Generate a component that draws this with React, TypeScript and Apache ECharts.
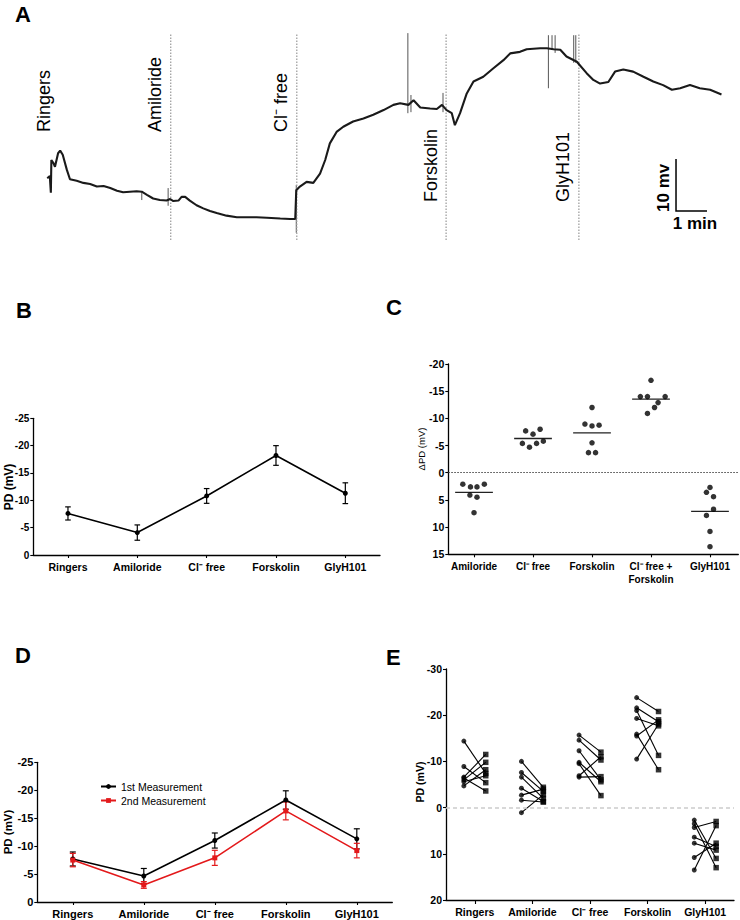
import React, { useEffect, useRef } from "react";
import * as echarts from "echarts";

const FONT = '"Liberation Sans", Arial, Helvetica, sans-serif';
const RED = "#e3191b";

// ---------- Panel A : PD trace (time in s, deflection in mV, upward = more negative PD)
const traceTime = [14, 19, 21, 22, 26, 29, 35, 39, 44, 52, 58, 71, 84, 97, 110, 123, 136, 149, 161, 174, 187, 197, 207, 219, 232, 245, 252, 258, 268, 274, 281, 290, 303, 316, 329, 342, 361, 381, 400, 419, 439, 465, 484, 494, 496, 503, 516, 529, 542, 552, 561, 574, 587, 606, 626, 645, 665, 684, 697, 713, 723, 736, 755, 768, 778, 787, 797, 803, 813, 826, 839, 858, 877, 897, 910, 929, 942, 968, 981, 994, 1007, 1019, 1039, 1058, 1071, 1084, 1100, 1113, 1129, 1148, 1168, 1187, 1206, 1223, 1239, 1258, 1277, 1297, 1319];
const traceMv = [11.5, 11.9, 8.7, 15.0, 14.4, 13.7, 16.3, 16.8, 16.0, 13.1, 11.3, 11.0, 10.6, 10.4, 9.9, 10.0, 9.6, 9.1, 8.8, 8.9, 9.0, 8.9, 8.3, 7.6, 7.3, 7.2, 7.5, 7.1, 7.2, 7.9, 7.9, 7.2, 6.3, 5.7, 5.2, 4.8, 4.3, 4.0, 4.0, 4.0, 3.9, 3.75, 3.65, 3.65, 9.2, 9.9, 10.8, 10.6, 12.4, 15.0, 18.2, 20.4, 21.4, 22.4, 23.0, 23.7, 24.6, 25.6, 25.9, 25.6, 26.5, 25.1, 24.9, 24.8, 25.6, 24.6, 24.0, 21.7, 24.0, 27.8, 30.1, 31.0, 32.6, 34.2, 35.5, 35.8, 36.3, 36.5, 36.5, 36.3, 36.2, 34.9, 33.9, 31.7, 30.4, 29.7, 30.0, 32.0, 32.4, 32.0, 31.0, 30.1, 29.4, 28.5, 28.8, 29.4, 28.8, 28.5, 27.6];
const spikeTime = [197, 248, 496, 712, 718, 780, 984, 991, 997, 1033, 1037];
const spikeLowMv = [7.3, 6.2, 1.0, 24.0, 24.2, 24.2, 28.8, 36.2, 35.6, 33.7, 33.7];
const spikeHighMv = [9.0, 9.6, 10.2, 39.4, 27.5, 27.9, 39.0, 39.0, 39.0, 39.0, 39.0];
const eventNames = ["Ringers", "Amiloride", "Cl⁻ free", "Forskolin", "GlyH101"];
const eventTime = [38, 253, 497, 786, 1043];
const eventLabelMv = [20.4, 20.4, 20.4, 6.9, 6.9];
const eventHasLine = [0, 1, 1, 1, 1];
const scaleBarMv = 10;
const scaleBarSec = 60;
const scaleBarAt = [1231, 5.2];

// ---------- Panel B
const bCats = ["Ringers", "Amiloride", "Cl⁻ free", "Forskolin", "GlyH101"];
const bMean = [-7.6, -4.1, -10.8, -18.2, -11.3];
const bSem = [1.2, 1.4, 1.35, 1.8, 1.9];

// ---------- Panel C
const cCats = ["Amiloride", "Cl⁻ free", "Forskolin", "Cl⁻ free +\nForskolin", "GlyH101"];
const cAmiloride = [2.1, 2.6, 2.6, 2.1, 4.1, 4.5, 7.35];
const cClFree = [-7.7, -7.1, -8.0, -5.4, -4.7, -5.4, -5.8];
const cForskolin = [-12.0, -8.95, -8.6, -8.75, -5.5, -3.7, -3.7];
const cClFreeForskolin = [-17.0, -14.0, -14.0, -14.0, -12.9, -12.0, -10.9];
const cGlyH101 = [2.7, 3.6, 4.4, 6.7, 7.85, 10.8, 13.6];
const cJitter = [
  [-0.19, -0.06, 0.05, 0.175, -0.07, 0.05, 0],
  [-0.125, 0, 0.12, -0.18, -0.06, 0.06, 0.175],
  [0, -0.12, 0, 0.12, 0, -0.06, 0.06],
  [0, -0.18, -0.06, 0.24, 0.12, 0.06, -0.06],
  [0, -0.06, 0.06, 0.06, -0.06, 0, 0],
];

// ---------- Panel D
const dCats = ["Ringers", "Amiloride", "Cl⁻ free", "Forskolin", "GlyH101"];
const dMean1 = [-7.7, -4.65, -11.0, -18.25, -11.3];
const dSem1 = [1.25, 1.35, 1.35, 1.65, 1.8];
const dMean2 = [-7.5, -3.05, -7.9, -16.3, -9.2];
const dSem2 = [1.2, 0.6, 1.35, 1.6, 1.3];

// ---------- Panel E (paired 1st / 2nd measurement)
const eCats = ["Ringers", "Amiloride", "Cl⁻ free", "Forskolin", "GlyH101"];
const eRingers1 = [-14.4, -8.9, -6.6, -6.4, -6.0, -5.6, -4.7];
const eRingers2 = [-7.4, -5.4, -11.5, -3.6, -9.8, -6.9, -8.2];
const eAmiloride1 = [-10.0, -7.6, -6.6, -4.2, -2.7, -1.6, 1.1];
const eAmiloride2 = [-4.4, -3.5, -2.0, -1.3, -4.0, -1.2, -2.8];
const eClFree1 = [-15.7, -14.6, -12.3, -9.8, -9.5, -6.9, -6.6];
const eClFree2 = [-12.0, -10.3, -6.0, -5.6, -2.6, -11.0, -6.7];
const eForskolin1 = [-23.8, -21.6, -21.0, -19.3, -15.9, -15.5, -10.5];
const eForskolin2 = [-20.8, -18.6, -11.3, -17.7, -8.2, -19.0, -18.1];
const eGlyH1011 = [2.7, 3.5, 4.3, 6.4, 7.7, 10.8, 13.5];
const eGlyH1012 = [11.0, 13.0, 3.0, 8.4, 9.2, 7.7, 3.9];

const PAIR_OFF = 0.19;

function buildOption(): any {
  const axLine = { show: true, onZero: false, lineStyle: { color: "#000", width: 1.3 } };
  const tick = { show: true, length: 3, lineStyle: { color: "#000", width: 1.1 } };
  const lbl = (size: number, extra: any = {}) => ({
    color: "#000", fontWeight: "bold", fontSize: size, fontFamily: FONT, ...extra,
  });
  const noSplit = { show: false };

  const errBar = (color: string, cap: number) => (params: any, api: any) => {
    const x = api.value(0), m = api.value(1), e = api.value(2);
    const a = api.coord([x, m - e]);
    const b = api.coord([x, m + e]);
    const st = { stroke: color, lineWidth: 1.2 };
    return {
      type: "group",
      children: [
        { type: "line", shape: { x1: a[0], y1: a[1], x2: b[0], y2: b[1] }, style: st },
        { type: "line", shape: { x1: a[0] - cap, y1: a[1], x2: a[0] + cap, y2: a[1] }, style: st },
        { type: "line", shape: { x1: b[0] - cap, y1: b[1], x2: b[0] + cap, y2: b[1] }, style: st },
      ],
    };
  };

  const cGroups = [cAmiloride, cClFree, cForskolin, cClFreeForskolin, cGlyH101];
  const cPoints: number[][] = [];
  cGroups.forEach((g, k) => g.forEach((v, j) => cPoints.push([k + 1 + cJitter[k][j], v])));
  const cMeans = cGroups.map((g, k) => [k + 1, g.reduce((s, v) => s + v, 0) / g.length]);

  const eFirst = [eRingers1, eAmiloride1, eClFree1, eForskolin1, eGlyH1011];
  const eSecond = [eRingers2, eAmiloride2, eClFree2, eForskolin2, eGlyH1012];
  const ePairs: number[][] = [];
  const eCircles: number[][] = [];
  const eSquares: number[][] = [];
  eFirst.forEach((g, k) =>
    g.forEach((v, j) => {
      ePairs.push([k + 1, v, eSecond[k][j]]);
      eCircles.push([k + 1 - PAIR_OFF, v]);
      eSquares.push([k + 1 + PAIR_OFF, eSecond[k][j]]);
    })
  );

  const letter = (t: string, x: number, y: number) => ({
    type: "text", x, y,
    style: { text: t, fontSize: 22, fontWeight: "bold", fontFamily: FONT, fill: "#000", align: "left", verticalAlign: "top" },
  });
  const vtitle = (t: string, x: number, y: number, size: number, weight: string) => ({
    type: "text", x, y, rotation: Math.PI / 2,
    style: { text: t, fontSize: size, fontWeight: weight, fontFamily: FONT, fill: "#000", align: "center", verticalAlign: "middle" },
  });

  return {
    animation: false,
    backgroundColor: "#fff",
    textStyle: { fontFamily: FONT },
    grid: [
      { left: 40, top: 30, width: 697.5, height: 213.2 },
      { left: 33.3, top: 418.3, width: 346.7, height: 136.7 },
      { left: 448.3, top: 364, width: 290, height: 190.3 },
      { left: 37.3, top: 762.3, width: 355, height: 139.7 },
      { left: 446, top: 669, width: 288, height: 231 },
    ],
    xAxis: [
      { gridIndex: 0, type: "value", min: 0, max: 1350, show: false },
      {
        gridIndex: 1, type: "category", data: bCats, boundaryGap: true, axisLine: axLine,
        axisTick: { ...tick, alignWithLabel: true }, axisLabel: lbl(10.5, { margin: 6, interval: 0 }), splitLine: noSplit,
      },
      {
        gridIndex: 2, type: "value", min: 0.564, max: 5.48, axisLine: axLine,
        axisTick: { ...tick, customValues: [1, 2, 3, 4, 5] },
        axisLabel: lbl(10, { margin: 6, lineHeight: 13, customValues: [1, 2, 3, 4, 5], formatter: (v: number) => cCats[Math.round(v) - 1] }),
        splitLine: noSplit,
      },
      {
        gridIndex: 3, type: "category", data: dCats, boundaryGap: true, axisLine: axLine,
        axisTick: { ...tick, alignWithLabel: true }, axisLabel: lbl(11, { margin: 6, interval: 0 }), splitLine: noSplit,
      },
      {
        gridIndex: 4, type: "value", min: 0.5, max: 5.5, axisLine: axLine,
        axisTick: { ...tick, length: 4, customValues: [1, 2, 3, 4, 5] },
        axisLabel: lbl(10.5, { margin: 6, customValues: [1, 2, 3, 4, 5], formatter: (v: number) => eCats[Math.round(v) - 1] }),
        splitLine: noSplit,
      },
    ],
    yAxis: [
      { gridIndex: 0, type: "value", min: -1, max: 40, show: false },
      { gridIndex: 1, type: "value", inverse: true, min: -25, max: 0, interval: 5, axisLine: axLine, axisTick: tick, axisLabel: lbl(10, { margin: 4 }), splitLine: noSplit },
      { gridIndex: 2, type: "value", inverse: true, min: -20, max: 15, interval: 5, axisLine: axLine, axisTick: tick, axisLabel: lbl(10.5, { margin: 4 }), splitLine: noSplit },
      { gridIndex: 3, type: "value", inverse: true, min: -25, max: 0, interval: 5, axisLine: axLine, axisTick: tick, axisLabel: lbl(11, { margin: 4 }), splitLine: noSplit },
      { gridIndex: 4, type: "value", inverse: true, min: -30, max: 20, interval: 10, axisLine: axLine, axisTick: tick, axisLabel: lbl(10.5, { margin: 4 }), splitLine: noSplit },
    ],
    legend: {
      data: ["1st Measurement", "2nd Measurement"],
      orient: "vertical", left: 95, top: 776, itemWidth: 15, itemHeight: 6, itemGap: 3,
      textStyle: { fontSize: 10.5, fontFamily: FONT, color: "#000" },
    },
    graphic: [
      letter("A", 15, 3),
      letter("B", 16, 299),
      letter("C", 386, 296),
      letter("D", 15, 644),
      letter("E", 386, 646),
      vtitle("PD (mV)", 9, 487, 12, "bold"),
      vtitle("ΔPD (mV)", 421.5, 449, 9.5, "normal"),
      vtitle("PD (mV)", 7.5, 832, 11.5, "bold"),
      vtitle("PD (mV)", 420, 782, 10.5, "bold"),
    ],
    series: [
      // ---- A
      {
        type: "line", xAxisIndex: 0, yAxisIndex: 0, silent: true, symbol: "none",
        data: traceTime.map((t, i) => [t, traceMv[i]]),
        lineStyle: { color: "#1a1a1a", width: 2.1 },
      },
      {
        type: "custom", xAxisIndex: 0, yAxisIndex: 0, silent: true,
        data: spikeTime.map((t, i) => [t, spikeLowMv[i], spikeHighMv[i]]),
        encode: { x: 0, y: [1, 2] },
        renderItem: (params: any, api: any) => {
          const a = api.coord([api.value(0), api.value(1)]);
          const b = api.coord([api.value(0), api.value(2)]);
          return { type: "line", shape: { x1: a[0], y1: a[1], x2: b[0], y2: b[1] }, style: { stroke: "#555", lineWidth: 1 } };
        },
      },
      {
        type: "custom", xAxisIndex: 0, yAxisIndex: 0, silent: true,
        data: eventTime.map((t, i) => [t, eventLabelMv[i], eventHasLine[i]]),
        encode: { x: 0, y: 1 },
        renderItem: (params: any, api: any) => {
          const i = params.dataIndex;
          const t = api.value(0);
          const lo = api.coord([t, -0.4]);
          const hi = api.coord([t, 39.4]);
          const lab = api.coord([t, api.value(1)]);
          const children: any[] = [];
          if (api.value(2)) {
            children.push({
              type: "line", shape: { x1: lo[0], y1: lo[1], x2: hi[0], y2: hi[1] },
              style: { stroke: "#a0a0a0", lineWidth: 1.3, lineDash: [1.5, 1.5] },
            });
          }
          children.push({
            type: "text", x: lab[0] - 15.5, y: lab[1], rotation: Math.PI / 2,
            style: { text: eventNames[i], fontSize: 18, fontFamily: FONT, fill: "#000", align: "left", verticalAlign: "middle" },
          });
          return { type: "group", children };
        },
      },
      {
        type: "custom", xAxisIndex: 0, yAxisIndex: 0, silent: true,
        data: [[scaleBarAt[0], scaleBarAt[1], scaleBarSec, scaleBarMv]],
        encode: { x: 0, y: 1 },
        renderItem: (params: any, api: any) => {
          const t = api.value(0), v = api.value(1);
          const o = api.coord([t, v]);
          const top = api.coord([t, v + api.value(3)]);
          const right = api.coord([t + api.value(2), v]);
          const st = { stroke: "#000", lineWidth: 1.5 };
          return {
            type: "group",
            children: [
              { type: "polyline", shape: { points: [top, o, right] }, style: { ...st, fill: "none" } },
              {
                type: "text", x: o[0] - 13, y: o[1] + 1, rotation: Math.PI / 2,
                style: { text: "10 mv", fontSize: 17, fontWeight: "bold", fontFamily: FONT, fill: "#000", align: "left", verticalAlign: "middle" },
              },
              {
                type: "text", x: (o[0] + right[0]) / 2 + 3.5, y: o[1] + 4,
                style: { text: "1 min", fontSize: 17, fontWeight: "bold", fontFamily: FONT, fill: "#000", align: "center", verticalAlign: "top" },
              },
            ],
          };
        },
      },
      // ---- B
      {
        type: "custom", xAxisIndex: 1, yAxisIndex: 1, silent: true,
        data: bMean.map((m, i) => [i, m, bSem[i]]), encode: { x: 0, y: 1 },
        renderItem: errBar("#000", 2.8),
      },
      {
        type: "line", xAxisIndex: 1, yAxisIndex: 1, silent: true, data: bMean,
        symbol: "circle", symbolSize: 5, itemStyle: { color: "#000" }, lineStyle: { color: "#000", width: 1.6 },
      },
      // ---- C
      {
        type: "scatter", xAxisIndex: 2, yAxisIndex: 2, silent: true, data: cPoints,
        symbol: "circle", symbolSize: 5.5, itemStyle: { color: "#000" },
        markLine: {
          silent: true, symbol: "none", label: { show: false },
          lineStyle: { color: "#444", width: 1, type: [1.5, 1.5] },
          data: [{ yAxis: 0 }],
        },
      },
      {
        type: "custom", xAxisIndex: 2, yAxisIndex: 2, silent: true, data: cMeans, encode: { x: 0, y: 1 },
        renderItem: (params: any, api: any) => {
          const a = api.coord([api.value(0) - 0.32, api.value(1)]);
          const b = api.coord([api.value(0) + 0.32, api.value(1)]);
          return { type: "line", shape: { x1: a[0], y1: a[1], x2: b[0], y2: b[1] }, style: { stroke: "#222", lineWidth: 1.3 } };
        },
      },
      // ---- D
      {
        type: "custom", xAxisIndex: 3, yAxisIndex: 3, silent: true,
        data: dMean1.map((m, i) => [i, m, dSem1[i]]), encode: { x: 0, y: 1 },
        renderItem: errBar("#000", 3),
      },
      {
        type: "custom", xAxisIndex: 3, yAxisIndex: 3, silent: true,
        data: dMean2.map((m, i) => [i, m, dSem2[i]]), encode: { x: 0, y: 1 },
        renderItem: errBar(RED, 3),
      },
      {
        name: "1st Measurement", type: "line", xAxisIndex: 3, yAxisIndex: 3, silent: true, data: dMean1,
        symbol: "circle", symbolSize: 5, itemStyle: { color: "#000" }, lineStyle: { color: "#000", width: 1.6 },
      },
      {
        name: "2nd Measurement", type: "line", xAxisIndex: 3, yAxisIndex: 3, silent: true, data: dMean2,
        symbol: "rect", symbolSize: 5, itemStyle: { color: RED }, lineStyle: { color: RED, width: 1.6 },
      },
      // ---- E
      {
        type: "custom", xAxisIndex: 4, yAxisIndex: 4, silent: true, data: ePairs, encode: { x: 0, y: [1, 2] },
        renderItem: (params: any, api: any) => {
          const a = api.coord([api.value(0) - PAIR_OFF, api.value(1)]);
          const b = api.coord([api.value(0) + PAIR_OFF, api.value(2)]);
          return { type: "line", shape: { x1: a[0], y1: a[1], x2: b[0], y2: b[1] }, style: { stroke: "#000", lineWidth: 1.1 } };
        },
      },
      {
        type: "scatter", xAxisIndex: 4, yAxisIndex: 4, silent: true, data: eCircles,
        symbol: "circle", symbolSize: 5, itemStyle: { color: "#000" },
        markLine: {
          silent: true, symbol: "none", label: { show: false },
          lineStyle: { color: "#cccccc", width: 1.6, type: [4, 3] },
          data: [{ yAxis: 0 }],
        },
      },
      {
        type: "scatter", xAxisIndex: 4, yAxisIndex: 4, silent: true, data: eSquares,
        symbol: "rect", symbolSize: 5.5, itemStyle: { color: "#000" },
      },
    ],
  };
}

export default function App() {
  const ref = useRef<HTMLDivElement>(null);
  useEffect(() => {
    if (!ref.current) return;
    const chart = echarts.init(ref.current, null, { renderer: "svg" });
    chart.setOption(buildOption());
    return () => chart.dispose();
  }, []);
  return (
    <div
      ref={ref}
      style={{ position: "absolute", left: 0, top: 0, width: 740, height: 920, background: "#fff" }}
    />
  );
}
